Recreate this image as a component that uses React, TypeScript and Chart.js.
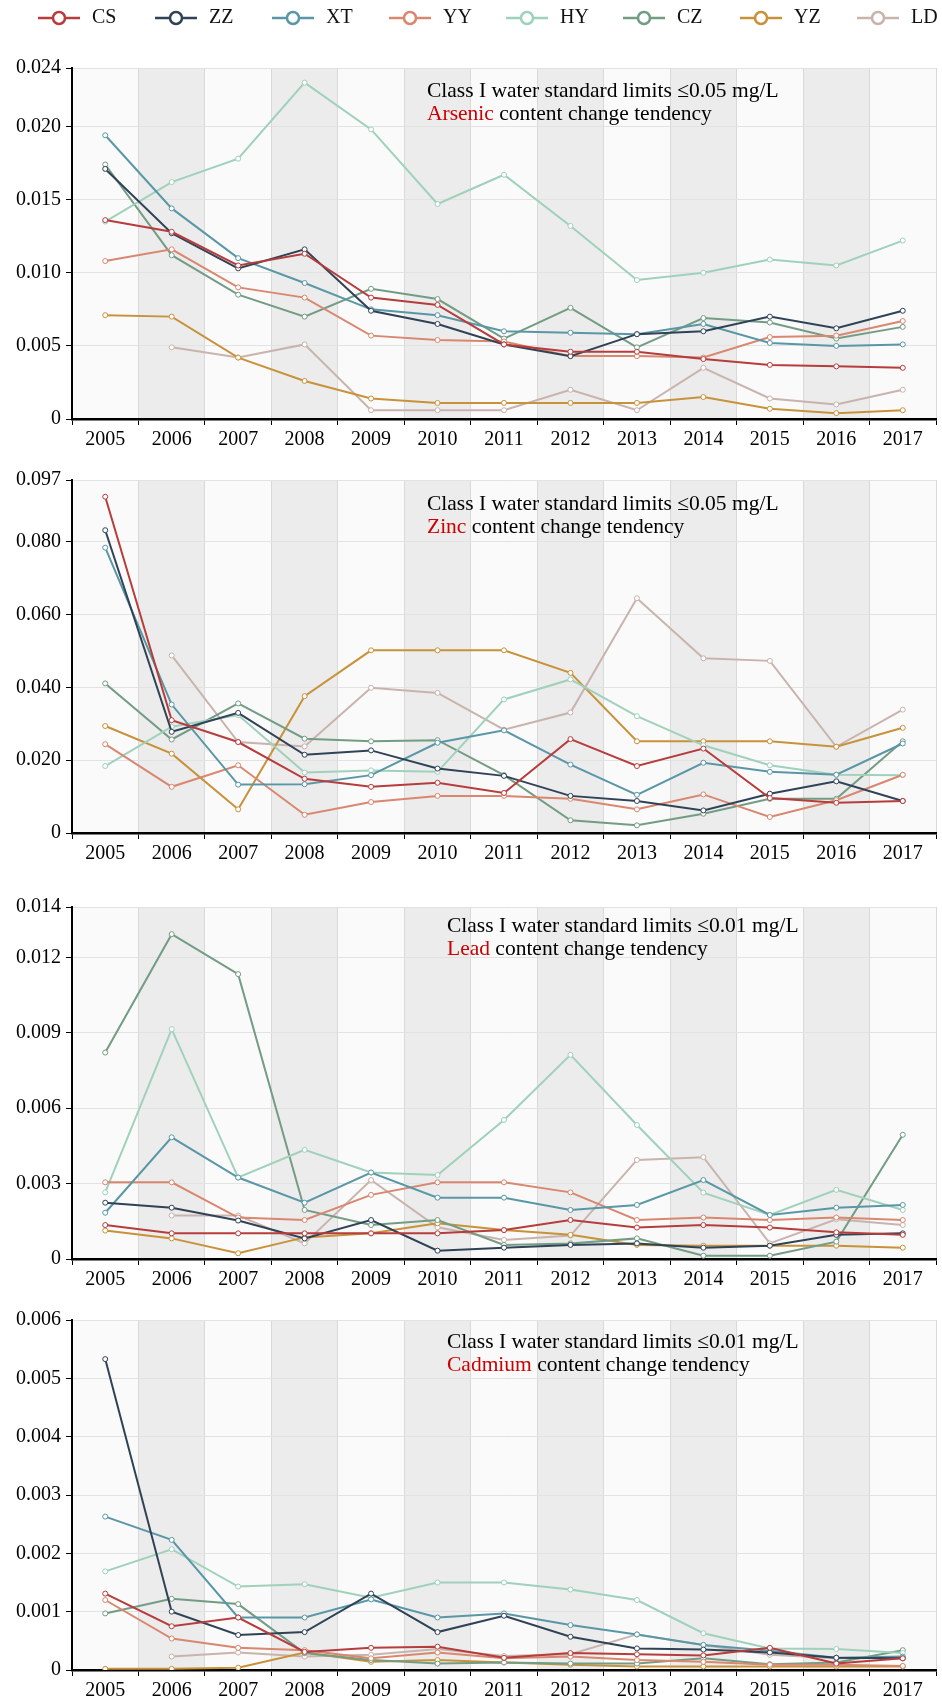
import React, { useEffect, useRef } from "react";
import { Chart, registerables } from "chart.js";
Chart.register(...registerables);

const years = ["2005", "2006", "2007", "2008", "2009", "2010", "2011", "2012", "2013", "2014", "2015", "2016", "2017"];
const seriesNames = ["CS", "ZZ", "XT", "YY", "HY", "CZ", "YZ", "LD"];
const seriesColors = ["#b73c3c", "#2f4256", "#5997a6", "#d9876f", "#9fd1bb", "#739c84", "#c8923a", "#c9b3ad"];

// Arsenic (mg/L), series order CS, ZZ, XT, YY, HY, CZ, YZ, LD
const arsenicValues = [
  [0.0136, 0.0128, 0.0105, 0.0113, 0.0083, 0.0078, 0.0051, 0.0046, 0.0046, 0.0041, 0.0037, 0.0036, 0.0035],
  [0.0171, 0.0127, 0.0103, 0.0116, 0.0074, 0.0065, 0.0051, 0.0043, 0.0058, 0.0060, 0.0070, 0.0062, 0.0074],
  [0.0194, 0.0144, 0.0110, 0.0093, 0.0075, 0.0071, 0.0060, 0.0059, 0.0058, 0.0065, 0.0052, 0.0050, 0.0051],
  [0.0108, 0.0116, 0.0090, 0.0083, 0.0057, 0.0054, 0.0053, 0.0043, 0.0043, 0.0042, 0.0056, 0.0057, 0.0067],
  [0.0135, 0.0162, 0.0178, 0.0230, 0.0198, 0.0147, 0.0167, 0.0132, 0.0095, 0.0100, 0.0109, 0.0105, 0.0122],
  [0.0174, 0.0112, 0.0085, 0.0070, 0.0089, 0.0082, 0.0055, 0.0076, 0.0049, 0.0069, 0.0066, 0.0055, 0.0063],
  [0.0071, 0.0070, 0.0042, 0.0026, 0.0014, 0.0011, 0.0011, 0.0011, 0.0011, 0.0015, 0.0007, 0.0004, 0.0006],
  [null, 0.0049, 0.0042, 0.0051, 0.0006, 0.0006, 0.0006, 0.0020, 0.0006, 0.0035, 0.0014, 0.0010, 0.0020],
];
const arsenicTicks = [0, 0.005, 0.01, 0.015, 0.02, 0.024];

const zincValues = [
  [0.0924, 0.0310, 0.0250, 0.0149, 0.0127, 0.0138, 0.0110, 0.0258, 0.0184, 0.0232, 0.0096, 0.0083, 0.0088],
  [0.0832, 0.0278, 0.0330, 0.0215, 0.0227, 0.0177, 0.0157, 0.0102, 0.0088, 0.0062, 0.0108, 0.0142, 0.0088],
  [0.0784, 0.0353, 0.0133, 0.0134, 0.0159, 0.0248, 0.0282, 0.0188, 0.0105, 0.0193, 0.0168, 0.0160, 0.0246],
  [0.0244, 0.0127, 0.0186, 0.0050, 0.0085, 0.0102, 0.0102, 0.0094, 0.0065, 0.0106, 0.0044, 0.0090, 0.0160],
  [0.0184, 0.0292, 0.0324, 0.0166, 0.0172, 0.0168, 0.0367, 0.0422, 0.0321, 0.0241, 0.0186, 0.0160, 0.0159],
  [0.0411, 0.0257, 0.0356, 0.0259, 0.0252, 0.0255, 0.0159, 0.0035, 0.0021, 0.0053, 0.0094, 0.0094, 0.0252],
  [0.0294, 0.0218, 0.0065, 0.0376, 0.0502, 0.0502, 0.0502, 0.0440, 0.0252, 0.0252, 0.0252, 0.0237, 0.0289],
  [null, 0.0488, 0.0250, 0.0238, 0.0399, 0.0385, 0.0284, 0.0331, 0.0645, 0.0480, 0.0473, 0.0237, 0.0339],
];
const zincTicks = [0, 0.02, 0.04, 0.06, 0.08, 0.097];

const leadValues = [
  [0.00135, 0.00102, 0.00102, 0.00102, 0.00102, 0.00102, 0.00115, 0.00155, 0.00125, 0.00135, 0.00125, 0.00106, 0.00096],
  [0.00224, 0.00204, 0.00153, 0.00082, 0.00155, 0.00033, 0.00045, 0.00056, 0.00062, 0.00045, 0.00053, 0.00096, 0.00102],
  [0.00184, 0.00484, 0.00324, 0.00224, 0.00344, 0.00244, 0.00244, 0.00195, 0.00215, 0.00314, 0.00175, 0.00204, 0.00215],
  [0.00305, 0.00305, 0.00165, 0.00155, 0.00255, 0.00305, 0.00305, 0.00265, 0.00155, 0.00165, 0.00155, 0.00165, 0.00155],
  [0.00265, 0.00914, 0.00324, 0.00434, 0.00344, 0.00334, 0.00553, 0.00812, 0.00533, 0.00264, 0.00175, 0.00275, 0.00195],
  [0.00821, 0.01292, 0.01133, 0.00195, 0.00135, 0.00155, 0.00056, 0.00062, 0.00082, 0.00013, 0.00013, 0.00069, 0.00494],
  [0.00113, 0.00082, 0.00023, 0.00086, 0.00102, 0.00142, 0.00115, 0.00096, 0.00056, 0.00053, 0.00053, 0.00053, 0.00045],
  [null, 0.00173, 0.00173, 0.00062, 0.00314, 0.00126, 0.00076, 0.00093, 0.00394, 0.00405, 0.00062, 0.00158, 0.00135],
];
const leadTicks = [0, 0.003, 0.006, 0.009, 0.012, 0.014];

const cadmiumValues = [
  [0.00131, 0.00075, 0.00090, 0.00031, 0.00038, 0.00040, 0.00021, 0.00029, 0.00027, 0.00025, 0.00038, 0.00011, 0.00020],
  [0.00533, 0.00100, 0.00060, 0.00065, 0.00131, 0.00065, 0.00093, 0.00057, 0.00037, 0.00035, 0.00030, 0.00021, 0.00020],
  [0.00263, 0.00223, 0.00090, 0.00090, 0.00121, 0.00090, 0.00097, 0.00077, 0.00061, 0.00043, 0.00033, 0.00021, 0.00023],
  [0.00120, 0.00054, 0.00038, 0.00034, 0.00020, 0.00030, 0.00020, 0.00023, 0.00017, 0.00014, 0.00009, 0.00009, 0.00007],
  [0.00169, 0.00207, 0.00143, 0.00147, 0.00124, 0.00150, 0.00150, 0.00138, 0.00120, 0.00063, 0.00037, 0.00036, 0.00029],
  [0.00097, 0.00122, 0.00113, 0.00029, 0.00017, 0.00011, 0.00013, 0.00011, 0.00011, 0.00020, 0.00010, 0.00013, 0.00034],
  [0.00002, 0.00002, 0.00004, 0.00030, 0.00014, 0.00017, 0.00013, 0.00009, 0.00006, 0.00006, 0.00006, 0.00006, 0.00006],
  [null, 0.00023, 0.00030, 0.00023, 0.00026, 0.00036, 0.00024, 0.00027, 0.00061, 0.00043, 0.00026, 0.00020, 0.00021],
];
const cadmiumTicks = [0, 0.001, 0.002, 0.003, 0.004, 0.005, 0.006];

const limitTexts = ["Class I water standard limits ≤0.05 mg/L", "Class I water standard limits ≤0.05 mg/L", "Class I water standard limits ≤0.01 mg/L", "Class I water standard limits ≤0.01 mg/L"];
const metalNames = ["Arsenic", "Zinc", "Lead", "Cadmium"];
const tendencySuffix = " content change tendency";

const FONT = "'Liberation Serif', 'Times New Roman', serif";

type PanelSpec = {
  values: (number | null)[][];
  ticks: number[];
  limit: string;
  metal: string;
  top: number;
  height: number;
  padTop: number;
  xHeight: number;
  textX: number;
  textY: number;
  legend: boolean;
};

const panels: PanelSpec[] = [
  { values: arsenicValues, ticks: arsenicTicks, limit: limitTexts[0], metal: metalNames[0], top: 0, height: 460, padTop: 68, xHeight: 41, textX: 427, textY: 97, legend: true },
  { values: zincValues, ticks: zincTicks, limit: limitTexts[1], metal: metalNames[1], top: 460, height: 414, padTop: 20, xHeight: 41, textX: 427, textY: 50, legend: false },
  { values: leadValues, ticks: leadTicks, limit: limitTexts[2], metal: metalNames[2], top: 874, height: 426, padTop: 33, xHeight: 41, textX: 447, textY: 58, legend: false },
  { values: cadmiumValues, ticks: cadmiumTicks, limit: limitTexts[3], metal: metalNames[3], top: 1300, height: 401, padTop: 20, xHeight: 31, textX: 447, textY: 48, legend: false },
];

function Panel({ spec }: { spec: PanelSpec }) {
  const ref = useRef<HTMLCanvasElement | null>(null);
  useEffect(() => {
    const canvas = ref.current;
    if (!canvas) return;
    const bandPlugin = {
      id: "bands",
      beforeDraw(chart: any) {
        const { ctx, chartArea } = chart;
        const xs = chart.scales.x;
        ctx.save();
        ctx.fillStyle = "#fafafa";
        ctx.fillRect(chartArea.left, chartArea.top, chartArea.right - chartArea.left, chartArea.bottom - chartArea.top);
        const w = (chartArea.right - chartArea.left) / years.length;
        ctx.fillStyle = "#ececec";
        years.forEach((_, i) => {
          if (i % 2 === 1) {
            const c = xs.getPixelForValue(i);
            ctx.fillRect(c - w / 2, chartArea.top, w, chartArea.bottom - chartArea.top);
          }
        });
        ctx.restore();
      },
    };
    const textPlugin = {
      id: "texts",
      afterDraw(chart: any) {
        const ctx = chart.ctx;
        ctx.save();
        ctx.font = `21.5px ${FONT}`;
        ctx.textBaseline = "alphabetic";
        ctx.textAlign = "left";
        ctx.fillStyle = "#000";
        ctx.fillText(spec.limit, spec.textX, spec.textY);
        ctx.fillStyle = "#cc0000";
        ctx.fillText(spec.metal, spec.textX, spec.textY + 23);
        const mw = ctx.measureText(spec.metal).width;
        ctx.fillStyle = "#000";
        ctx.fillText(tendencySuffix, spec.textX + mw, spec.textY + 23);
        if (spec.legend) {
          ctx.font = `20px ${FONT}`;
          seriesNames.forEach((name, i) => {
            const cx = 59 + 117 * i;
            const cy = 18;
            ctx.strokeStyle = seriesColors[i];
            ctx.lineWidth = 2.5;
            ctx.beginPath();
            ctx.moveTo(cx - 21, cy);
            ctx.lineTo(cx + 21, cy);
            ctx.stroke();
            ctx.beginPath();
            ctx.arc(cx, cy, 6, 0, Math.PI * 2);
            ctx.fillStyle = "#fff";
            ctx.fill();
            ctx.stroke();
            ctx.fillStyle = "#111";
            ctx.textBaseline = "middle";
            ctx.fillText(name, cx + 33, cy);
          });
        }
        ctx.restore();
      },
    };
    const chart = new Chart(canvas, {
      type: "line",
      data: {
        labels: years,
        datasets: seriesNames.map((name, i) => ({
          label: name,
          data: spec.values[i],
          borderColor: seriesColors[i],
          backgroundColor: seriesColors[i],
          borderWidth: 2,
          pointRadius: 2.5,
          pointBorderWidth: 1,
          pointBackgroundColor: "#ffffff",
          pointBorderColor: seriesColors[i],
          tension: 0,
          spanGaps: false,
        })),
      },
      options: {
        animation: false,
        responsive: false,
        devicePixelRatio: 1,
        layout: { padding: { top: spec.padTop, right: 6, left: 0, bottom: 0 } },
        plugins: { legend: { display: false }, tooltip: { enabled: false } },
        scales: {
          x: {
            type: "category",
            offset: true,
            grid: { offset: true, color: "#d9d9d9", lineWidth: 1, tickLength: 6, tickColor: "#000", drawTicks: true },
            border: { color: "#000", width: 2.5 },
            ticks: { font: { family: FONT, size: 20 }, color: "#000", padding: 3, maxRotation: 0, autoSkip: false },
            afterFit: (s: any) => {
              s.height = spec.xHeight;
            },
          },
          y: {
            type: "linear",
            min: 0,
            max: spec.ticks[spec.ticks.length - 1],
            afterBuildTicks: (s: any) => {
              s.ticks = spec.ticks.map((v) => ({ value: v }));
            },
            afterFit: (s: any) => {
              s.width = 72;
            },
            grid: { color: "#e2e2e2", lineWidth: 1, tickLength: 6, tickColor: "#000", drawTicks: true },
            border: { color: "#000", width: 2 },
            ticks: {
              font: { family: FONT, size: 20 },
              color: "#000",
              padding: 5,
              callback: (v: any) => (Number(v) === 0 ? "0" : Number(v).toFixed(3)),
            },
          },
        },
      },
      plugins: [bandPlugin, textPlugin],
    });
    return () => chart.destroy();
  }, [spec]);
  return (
    <canvas
      ref={ref}
      width={942}
      height={spec.height}
      style={{ position: "absolute", left: 0, top: spec.top, width: 942, height: spec.height, display: "block" }}
    />
  );
}

export default function App() {
  return (
    <div style={{ position: "absolute", left: 0, top: 0, width: 942, height: 1701, background: "#fff", overflow: "hidden" }}>
      {panels.map((p, i) => (
        <Panel key={i} spec={p} />
      ))}
    </div>
  );
}
